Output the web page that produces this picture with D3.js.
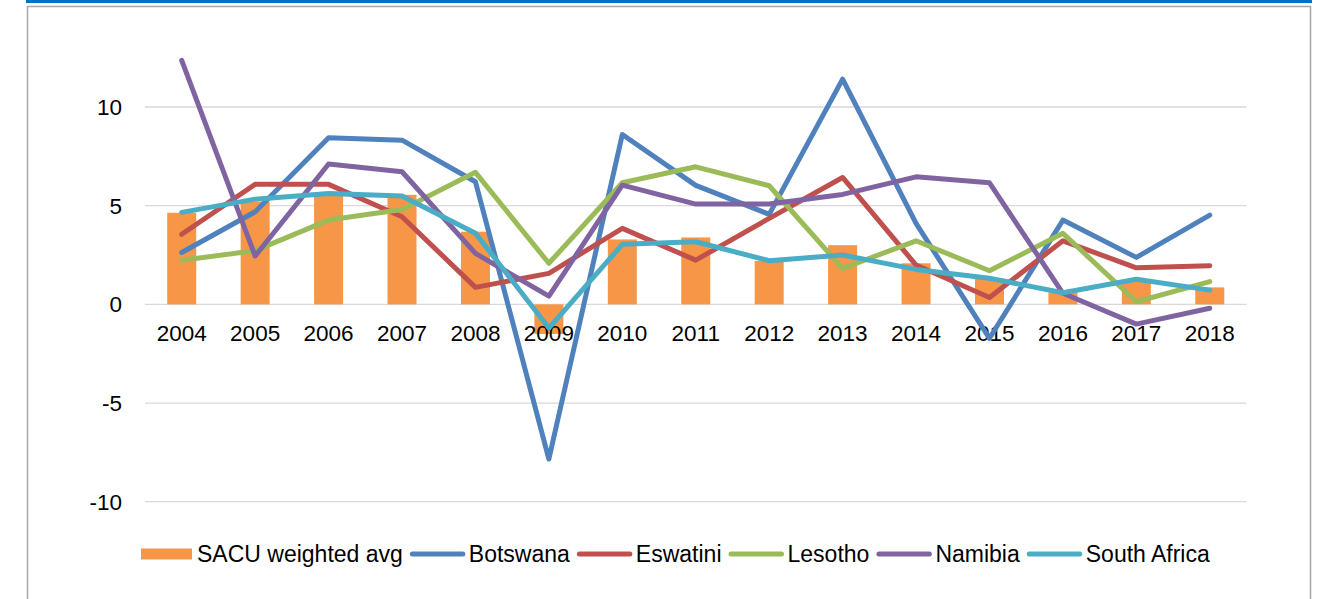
<!DOCTYPE html>
<html>
<head>
<meta charset="utf-8">
<script src="https://cdn.jsdelivr.net/npm/d3@7"></script>
<style>
  html, body { margin: 0; padding: 0; background: #fff; }
  svg { display: block; font-family: "Liberation Sans", Arial, sans-serif; }
</style>
</head>
<body>
<div id="plot"></div>
<script>
var years = ["2004", "2005", "2006", "2007", "2008", "2009", "2010", "2011", "2012", "2013", "2014", "2015", "2016", "2017", "2018"];
var yTicks = [-10, -5, 0, 5, 10];

var sacu = [4.64, 5.2, 5.6, 5.55, 3.68, -1.5, 3.29, 3.39, 2.2, 3.0, 2.08, 1.3, 0.6, 1.23, 0.86];
var botswana = [2.63, 4.69, 8.44, 8.32, 6.21, -7.84, 8.61, 6.03, 4.56, 11.41, 4.1, -1.72, 4.27, 2.38, 4.52];
var eswatini = [3.55, 6.08, 6.08, 4.44, 0.86, 1.57, 3.85, 2.24, 4.36, 6.43, 1.99, 0.35, 3.22, 1.85, 1.96];
var lesotho = [2.23, 2.72, 4.27, 4.81, 6.69, 2.08, 6.16, 6.97, 6.01, 1.82, 3.22, 1.70, 3.6, 0.13, 1.15];
var namibia = [12.36, 2.45, 7.11, 6.72, 2.58, 0.42, 6.04, 5.08, 5.08, 5.57, 6.46, 6.16, 0.56, -1.0, -0.2];
var southAfrica = [4.66, 5.33, 5.62, 5.49, 3.6, -1.2, 3.04, 3.17, 2.21, 2.5, 1.77, 1.32, 0.59, 1.27, 0.72];

var lineSeries = [
  { name: "Botswana", values: botswana, color: "#4F81BD" },
  { name: "Eswatini", values: eswatini, color: "#C0504D" },
  { name: "Lesotho", values: lesotho, color: "#9BBB59" },
  { name: "Namibia", values: namibia, color: "#8064A2" },
  { name: "South Africa", values: southAfrica, color: "#4BACC6" }
];
var barName = "SACU weighted avg", barColor = "#F79646";

var W = 1322, H = 599;
var svg = d3.select("#plot").append("svg")
  .attr("width", W)
  .attr("height", H);

// frame
svg.append("rect")
  .attr("x", 26).attr("y", 0)
  .attr("width", 1286).attr("height", 3)
  .attr("fill", "#0070C0");
svg.append("rect")
  .attr("x", 27.5).attr("y", 6.5)
  .attr("width", 1283).attr("height", 620)
  .attr("fill", "none")
  .attr("stroke", "#A6A6A6")
  .attr("stroke-width", 1.5);

var x = d3.scaleBand()
  .domain(years)
  .range([145, 1246.5]);

var y = d3.scaleLinear()
  .domain([-10, 10])
  .range([501.7, 107]);

// gridlines
svg.append("g")
  .selectAll("line")
  .data(yTicks)
  .join("line")
  .attr("x1", 145).attr("x2", 1246.5)
  .attr("y1", d => y(d)).attr("y2", d => y(d))
  .attr("stroke", "#D9D9D9")
  .attr("stroke-width", 1.3);

// y labels
svg.append("g")
  .selectAll("text")
  .data(yTicks)
  .join("text")
  .attr("x", 122)
  .attr("y", d => y(d))
  .attr("dy", "0.36em")
  .attr("text-anchor", "end")
  .style("font-size", "22.5px")
  .attr("fill", "#000")
  .text(d => d);

// bars
var barW = 29;
svg.append("g")
  .selectAll("rect")
  .data(sacu)
  .join("rect")
  .attr("x", (d, i) => x(years[i]) + x.bandwidth() / 2 - barW / 2)
  .attr("y", d => y(Math.max(0, d)))
  .attr("width", barW)
  .attr("height", d => Math.abs(y(d) - y(0)))
  .attr("fill", barColor);

// x labels
svg.append("g")
  .selectAll("text")
  .data(years)
  .join("text")
  .attr("x", d => x(d) + x.bandwidth() / 2)
  .attr("y", 340.5)
  .attr("text-anchor", "middle")
  .style("font-size", "22.5px")
  .attr("fill", "#000")
  .text(d => d);

// lines
var line = d3.line()
  .x((d, i) => x(years[i]) + x.bandwidth() / 2)
  .y(d => y(d));

svg.append("g")
  .selectAll("path")
  .data(lineSeries)
  .join("path")
  .attr("d", d => line(d.values))
  .attr("fill", "none")
  .attr("stroke", d => d.color)
  .attr("stroke-width", 5)
  .attr("stroke-linejoin", "round")
  .attr("stroke-linecap", "round");

// legend
var legend = svg.append("g").attr("transform", "translate(0,554)");
var lx = 141;
legend.append("rect")
  .attr("x", lx).attr("y", -5.5)
  .attr("width", 51).attr("height", 11)
  .attr("fill", barColor);
var t = legend.append("text")
  .attr("x", lx + 56).attr("y", 0).attr("dy", "0.36em")
  .style("font-size", "23px")
  .text(barName);
lx = lx + 56 + t.node().getComputedTextLength() + 7;
lineSeries.forEach(function (s) {
  legend.append("line")
    .attr("x1", lx + 2.5).attr("x2", lx + 53)
    .attr("y1", 0).attr("y2", 0)
    .attr("stroke", s.color)
    .attr("stroke-width", 5)
    .attr("stroke-linecap", "round");
  var tt = legend.append("text")
    .attr("x", lx + 59).attr("y", 0).attr("dy", "0.36em")
    .style("font-size", "23px")
    .text(s.name);
  lx = lx + 59 + tt.node().getComputedTextLength() + 7;
});
</script>
</body>
</html>
